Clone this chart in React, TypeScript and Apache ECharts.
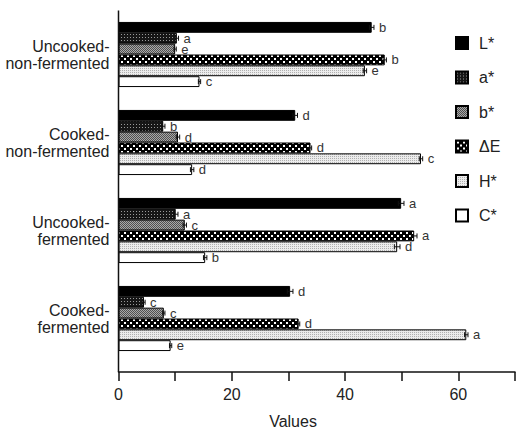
import React, { useEffect, useRef } from 'react';
import * as echarts from 'echarts';

const categories = [
  'Uncooked-\nnon-fermented',
  'Cooked-\nnon-fermented',
  'Uncooked-\nfermented',
  'Cooked-\nfermented',
];
const measures = ['L*', 'a*', 'b*', 'ΔE', 'H*', 'C*'];

const lValues = [44.7, 31.2, 49.9, 30.3];
const aValues = [10.3, 7.9, 10.1, 4.5];
const bValues = [10.0, 10.5, 11.7, 8.0];
const deValues = [47.0, 33.9, 52.2, 31.8];
const hValues = [43.5, 53.4, 49.2, 61.4];
const cValues = [14.3, 13.0, 15.3, 9.2];

const lErr = [0.4, 0.4, 0.5, 0.5];
const aErr = [0.3, 0.3, 0.4, 0.2];
const bErr = [0.2, 0.3, 0.3, 0.2];
const deErr = [0.3, 0.2, 0.5, 0.2];
const hErr = [0.3, 0.3, 0.5, 0.3];
const cErr = [0.2, 0.3, 0.3, 0.2];

const lLetters = ['b', 'd', 'a', 'd'];
const aLetters = ['a', 'b', 'a', 'c'];
const bLetters = ['e', 'd', 'c', 'c'];
const deLetters = ['b', 'd', 'a', 'd'];
const hLetters = ['e', 'c', 'd', 'a'];
const cLetters = ['c', 'd', 'b', 'e'];

const xTickLabels = [0, 20, 40, 60];

const FONT = 'Liberation Sans, Arial, Helvetica, sans-serif';
const CAT_GAP = 0.26;

function makePattern(w: number, h: number, draw: (ctx: CanvasRenderingContext2D) => void) {
  const c = document.createElement('canvas');
  c.width = w;
  c.height = h;
  const ctx = c.getContext('2d') as CanvasRenderingContext2D;
  draw(ctx);
  return { image: c.toDataURL(), repeat: 'repeat', imageWidth: w, imageHeight: h } as any;
}

export default function App() {
  const ref = useRef<HTMLDivElement>(null);
  useEffect(() => {
    if (!ref.current) return;
    const chart = echarts.init(ref.current, undefined, { renderer: 'svg' });

    const patA = makePattern(3, 3, (ctx) => {
      ctx.fillStyle = '#161616';
      ctx.fillRect(0, 0, 3, 3);
      ctx.fillStyle = '#9a9a9a';
      ctx.fillRect(1, 1, 1, 1);
    });
    const patB = makePattern(2, 2, (ctx) => {
      ctx.fillStyle = '#a8a8a8';
      ctx.fillRect(0, 0, 2, 2);
      ctx.fillStyle = '#505050';
      ctx.fillRect(0, 0, 1, 1);
      ctx.fillRect(1, 1, 1, 1);
    });
    const patDE = makePattern(6, 6, (ctx) => {
      ctx.fillStyle = '#000';
      ctx.fillRect(0, 0, 6, 6);
      ctx.fillStyle = '#fff';
      ctx.fillRect(1, 1, 2, 2);
      ctx.fillRect(4, 4, 2, 2);
    });
    const patH = makePattern(2, 2, (ctx) => {
      ctx.fillStyle = '#ececec';
      ctx.fillRect(0, 0, 2, 2);
      ctx.fillStyle = '#b0b0b0';
      ctx.fillRect(0, 0, 1, 1);
    });

    const valueSets = [lValues, aValues, bValues, deValues, hValues, cValues];
    const errSets = [lErr, aErr, bErr, deErr, hErr, cErr];
    const letterSets = [lLetters, aLetters, bLetters, deLetters, hLetters, cLetters];
    const fills: any[] = ['#000000', patA, patB, patDE, patH, '#ffffff'];
    const n = measures.length;

    const barSeries = measures.map((m, i) => ({
      name: m,
      type: 'bar',
      data: valueSets[i],
      barGap: '0%',
      barCategoryGap: CAT_GAP * 100 + '%',
      itemStyle: { color: fills[i], borderColor: '#000', borderWidth: 1 },
      z: 2,
    }));

    const errSeries = measures.map((m, si) => ({
      name: 'err ' + m,
      type: 'custom',
      z: 3,
      encode: { x: 0, y: 1 },
      data: valueSets[si].map((v, ci) => [v, ci, errSets[si][ci]]),
      renderItem: (params: any, api: any) => {
        const v = api.value(0);
        const cat = api.value(1);
        const e = api.value(2);
        const center = api.coord([v, cat]);
        const band = api.size([0, 1])[1];
        const usable = band * (1 - CAT_GAP);
        const bw = usable / n;
        const y = center[1] - usable / 2 + bw * (si + 0.5);
        const x0 = api.coord([v - e, cat])[0];
        const x1 = api.coord([v + e, cat])[0];
        const st = { stroke: '#111', lineWidth: 1 };
        return {
          type: 'group',
          children: [
            { type: 'line', shape: { x1: x0, y1: y, x2: x1, y2: y }, style: st },
            { type: 'line', shape: { x1: x0, y1: y - 2.5, x2: x0, y2: y + 2.5 }, style: st },
            { type: 'line', shape: { x1: x1, y1: y - 2.5, x2: x1, y2: y + 2.5 }, style: st },
            {
              type: 'text',
              x: x1 + 5,
              y: y,
              style: {
                text: letterSets[si][cat],
                fontSize: 13,
                fontFamily: FONT,
                fill: '#333',
                align: 'left',
                verticalAlign: 'middle',
              },
            },
          ],
        };
      },
    }));

    chart.setOption({
      animation: false,
      backgroundColor: '#ffffff',
      grid: { left: 118.5, top: 10.5, width: 401, height: 352, containLabel: false },
      legend: {
        data: measures,
        orient: 'vertical',
        left: 450,
        top: 30,
        itemWidth: 12,
        itemHeight: 12,
        itemGap: 18.5,
        selectedMode: false,
        icon: 'rect',
        textStyle: { fontSize: 16, fontFamily: FONT, color: '#222', padding: [0, 0, 0, 6], lineHeight: 16 },
      },
      xAxis: {
        type: 'value',
        min: 0,
        max: 70,
        interval: 10,
        offset: 9.5,
        splitLine: { show: false },
        axisLine: { show: true, lineStyle: { color: '#111', width: 1.5 } },
        axisTick: { show: true, length: 9, lineStyle: { color: '#111', width: 1.5 } },
        axisLabel: {
          margin: 14,
          fontSize: 16,
          fontFamily: FONT,
          color: '#222',
          formatter: (v: number) => (xTickLabels.indexOf(v) >= 0 ? String(v) : ''),
        },
      },
      yAxis: {
        type: 'category',
        data: categories,
        inverse: true,
        axisLine: { show: false },
        axisTick: { show: false },
        axisLabel: {
          margin: 9,
          fontSize: 16,
          lineHeight: 17,
          fontFamily: FONT,
          color: '#222',
          align: 'right',
        },
      },
      graphic: [
        {
          type: 'line',
          shape: { x1: 118.5, y1: 10.5, x2: 118.5, y2: 372 },
          style: { stroke: '#111', lineWidth: 1.5 },
          z: 10,
        },
        {
          type: 'text',
          x: 293,
          y: 421,
          style: {
            text: 'Values',
            fontSize: 16,
            fontFamily: FONT,
            fill: '#222',
            align: 'center',
            verticalAlign: 'middle',
          },
        },
      ],
      series: [...barSeries, ...errSeries],
    });

    return () => chart.dispose();
  }, []);

  return (
    <div
      ref={ref}
      style={{ position: 'absolute', left: 0, top: 0, width: 518, height: 428, background: '#fff' }}
    />
  );
}
